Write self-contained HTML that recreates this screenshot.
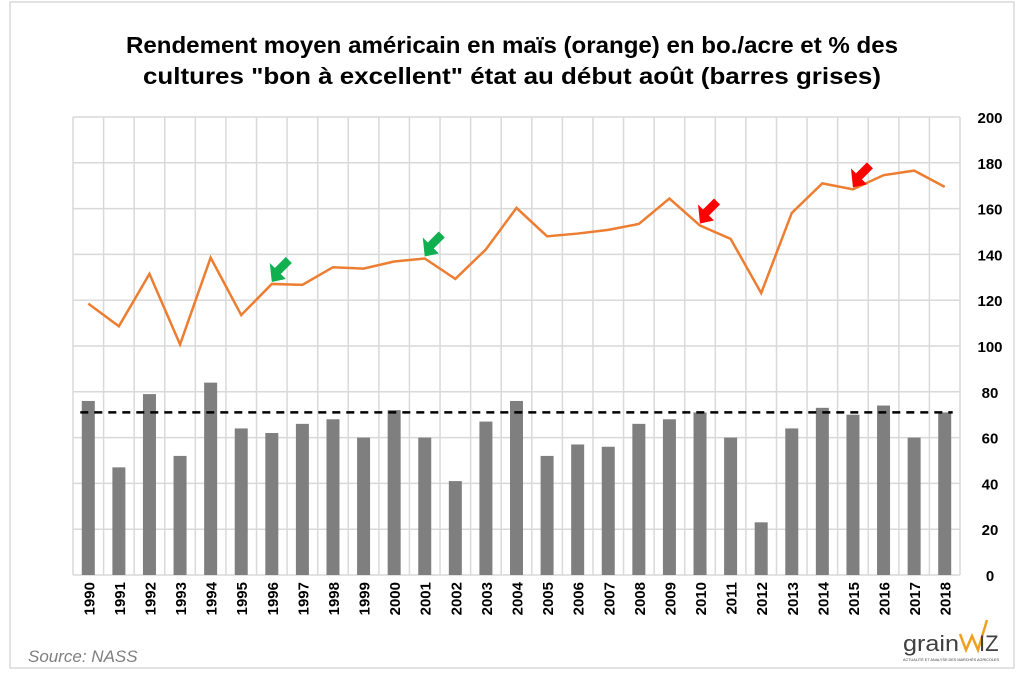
<!DOCTYPE html>
<html><head><meta charset="utf-8"><style>
body{margin:0;background:#fff;width:1024px;height:681px;overflow:hidden;font-family:"Liberation Sans",sans-serif}
</style></head><body>
<svg id="chart" width="1024" height="681" xmlns="http://www.w3.org/2000/svg">
<rect x="10" y="2" width="1004" height="666" fill="#fff" stroke="#d9d9d9" stroke-width="1.5"/>
<text x="512" y="53" text-anchor="middle" font-size="23" font-weight="bold" fill="#000" textLength="772" lengthAdjust="spacingAndGlyphs">Rendement moyen américain en maïs (orange) en bo./acre et % des</text>
<text x="512" y="84" text-anchor="middle" font-size="23" font-weight="bold" fill="#000" textLength="738" lengthAdjust="spacingAndGlyphs">cultures "bon à excellent" état au début août (barres grises)</text>
<g id="grid"></g><g id="bars"></g><g id="line"></g><g id="axis"></g>
<text x="28" y="662" font-size="17" font-style="italic" fill="#7f7f7f">Source: NASS</text>
<g>
<text x="903" y="651" font-size="22" fill="#404040" textLength="56" lengthAdjust="spacingAndGlyphs">grain</text>
<polyline points="960,634 966,650 972,636 978,650 987,620" fill="none" stroke="#f0a020" stroke-width="2.5"/>
<text x="979" y="651" font-size="22" fill="#404040">IZ</text>
<text x="903" y="661" font-size="4" fill="#404040" textLength="96" lengthAdjust="spacingAndGlyphs">ACTUALITÉ ET ANALYSE DES MARCHÉS AGRICOLES</text>
</g>
</svg>
<script>
const years=[1990,1991,1992,1993,1994,1995,1996,1997,1998,1999,2000,2001,2002,2003,2004,2005,2006,2007,2008,2009,2010,2011,2012,2013,2014,2015,2016,2017,2018];
const goodExcellent=[76,47,79,52,84,64,62,66,68,60,72,60,41,67,76,52,57,56,66,68,71,60,23,64,73,70,74,60,71];
const yieldVals=[118.5,108.6,131.5,100.7,138.6,113.5,127.1,126.7,134.4,133.8,136.9,138.2,129.3,142.2,160.3,147.9,149.1,150.7,153.3,164.4,152.6,146.8,123.1,158.1,171.0,168.4,174.6,176.6,169.5];
const yTicks=[0,20,40,60,80,100,120,140,160,180,200];
const avgLine=71;
const greenArrows=[1996,2001];
const redArrows=[2010,2015];
const L=73,R=960,T=117,B=575,NS="http://www.w3.org/2000/svg";
const bw=(R-L)/years.length;
const x=i=>L+bw*(i+0.5);
const y=v=>B-(v/200)*(B-T);
function mk(tag,attrs,parent){const e=document.createElementNS(NS,tag);for(const k in attrs)e.setAttribute(k,attrs[k]);parent.appendChild(e);return e;}
const grid=document.getElementById('grid'),bars=document.getElementById('bars'),line=document.getElementById('line'),axis=document.getElementById('axis');
yTicks.forEach(t=>{const g=mk('line',{x1:L,x2:R,y1:y(t),y2:y(t),stroke:'#d9d9d9','stroke-width':1.5},grid);


const tx=mk('text',{x:990,y:y(t)+6,'text-anchor':'middle','font-size':15,'font-weight':'bold'},axis);tx.textContent=t;

});
for(let i=0;i<=years.length;i++){const g=mk('line',{x1:L+bw*i,x2:L+bw*i,y1:T,y2:B,stroke:'#d9d9d9','stroke-width':1.5},grid);

}
years.forEach((yr,i)=>{const r=mk('rect',{x:x(i)-6.5,y:y(goodExcellent[i]),width:13,height:B-y(goodExcellent[i]),fill:'#7f7f7f'},bars);


const tx=mk('text',{transform:`translate(${x(i)+6},${582}) rotate(-90)`,'text-anchor':'end','font-size':15,'font-weight':'bold'},axis);tx.textContent=yr;

});
const d=mk('line',{x1:x(0)-8,x2:x(years.length-1)+8,y1:y(avgLine),y2:y(avgLine),stroke:'#000','stroke-width':2.5,'stroke-dasharray':'8,6'},bars);


const pl=mk('polyline',{points:yieldVals.map((v,i)=>x(i)+','+y(v)).join(' '),fill:'none',stroke:'#ed7d31','stroke-width':2.5},line);


function arrow(yr,color,name){const i=years.indexOf(yr);const px=x(i),py=y(yieldVals[i])-2;
const a=mk('polygon',{points:'0,0 14,-3 9,-8 20,-19 14,-25 3,-14 -2,-19',fill:color,transform:`translate(${px},${py})`},line);

}
greenArrows.forEach(yr=>arrow(yr,'#10b050','green-arrow-'+yr));
redArrows.forEach(yr=>arrow(yr,'#ff0000','red-arrow-'+yr));
</script>
</body></html>
